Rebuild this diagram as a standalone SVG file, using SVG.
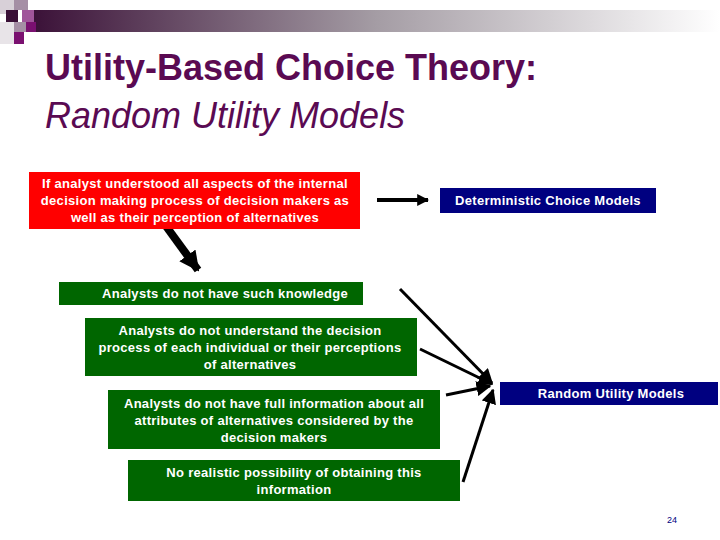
<svg xmlns="http://www.w3.org/2000/svg" width="720" height="540" viewBox="0 0 720 540">
<defs>
<linearGradient id="g" x1="0" x2="1"><stop offset="0" stop-color="#3a1037"/><stop offset="0.5" stop-color="#a49ca4"/><stop offset="1" stop-color="#ffffff"/></linearGradient>
<marker id="ah" viewBox="0 0 10 10" refX="9" refY="5" markerWidth="3" markerHeight="3" orient="auto"><path d="M0,0L10,5L0,10z" fill="#000"/></marker>
<marker id="ah2" viewBox="0 0 10 10" refX="9" refY="5" markerWidth="2.5" markerHeight="2.5" orient="auto"><path d="M0,0L10,5L0,10z" fill="#000"/></marker>
<marker id="ah3" viewBox="0 0 10 10" refX="9" refY="5" markerWidth="5" markerHeight="5" orient="auto"><path d="M0,0L10,5L0,10z" fill="#000"/></marker>
<style>
.t{font-family:"Liberation Sans",Arial,sans-serif;font-size:13px;font-weight:bold;fill:#fff;text-anchor:middle;letter-spacing:0.3px}
.sh{fill:#000}
</style>
</defs>
<rect x="30" y="10" width="690" height="22" fill="url(#g)"/>
<rect x="0" y="0" width="14" height="14" fill="#d8d0d8"/>
<rect x="14" y="0" width="14" height="10" fill="#a58fa5"/>
<rect x="6" y="10" width="12" height="12" fill="#3a1037"/>
<rect x="22" y="10" width="12" height="12" fill="#a0559a"/>
<rect x="14" y="22" width="12" height="10" fill="#a58fa5"/>
<rect x="26" y="22" width="10" height="10" fill="#7a1070"/>
<rect x="14" y="32" width="10" height="12" fill="#7a1070"/>
<rect x="0" y="22" width="14" height="22" fill="#e8e4e8"/>
<g font-family="Liberation Sans,Arial,sans-serif" font-size="36" fill="#5a0a52">
<text x="45" y="80" font-weight="bold">Utility-Based Choice Theory:</text>
<text x="45" y="128" font-style="italic">Random Utility Models</text>
</g>
<g id="connectors" stroke="#000" fill="none">
<line x1="377" y1="200" x2="428" y2="200" stroke-width="4" marker-end="url(#ah)"/>
<line x1="163" y1="222" x2="198" y2="270" stroke-width="8" marker-end="url(#ah2)"/>
<line x1="400" y1="289" x2="492" y2="383" stroke-width="3" marker-end="url(#ah3)"/>
<line x1="420" y1="349" x2="492" y2="384" stroke-width="3" marker-end="url(#ah3)"/>
<line x1="446" y1="395" x2="490" y2="386" stroke-width="3" marker-end="url(#ah3)"/>
<line x1="463" y1="482" x2="493" y2="390" stroke-width="3" marker-end="url(#ah3)"/>
</g>
<g id="n1"><rect x="29" y="172" width="331" height="57" fill="#ff0000"/>
<text class="t"><tspan x="195" y="188">If analyst understood all aspects of the internal</tspan><tspan x="195" y="205">decision making process of decision makers as</tspan><tspan x="195" y="222">well as their perception of alternatives</tspan></text></g>
<g id="n2"><rect x="440" y="188" width="216" height="25" fill="#000080"/>
<text class="t" x="548" y="205">Deterministic Choice Models</text></g>
<g id="n3"><rect x="59" y="282" width="304" height="23" fill="#006600"/>
<text class="t" x="225" y="298">Analysts do not have such knowledge</text></g>
<g id="n4"><rect x="85" y="318" width="332" height="58" fill="#006600"/>
<text class="t"><tspan x="250" y="335">Analysts do not understand the decision</tspan><tspan x="250" y="352">process of each individual or their perceptions</tspan><tspan x="250" y="369">of alternatives</tspan></text></g>
<g id="n5"><rect x="500" y="382" width="218" height="23" fill="#000080"/>
<text class="t" x="611" y="398">Random Utility Models</text></g>
<g id="n6"><rect x="108" y="390" width="332" height="59" fill="#006600"/>
<text class="t"><tspan x="274" y="408">Analysts do not have full information about all</tspan><tspan x="274" y="425">attributes of alternatives considered by the</tspan><tspan x="274" y="442">decision makers</tspan></text></g>
<g id="n7"><rect x="128" y="460" width="332" height="41" fill="#006600"/>
<text class="t"><tspan x="294" y="477">No realistic possibility of obtaining this</tspan><tspan x="294" y="494">information</tspan></text></g>
<text x="672" y="523" font-family="Liberation Sans,Arial,sans-serif" font-size="9" fill="#000080" text-anchor="middle">24</text>
</svg>
